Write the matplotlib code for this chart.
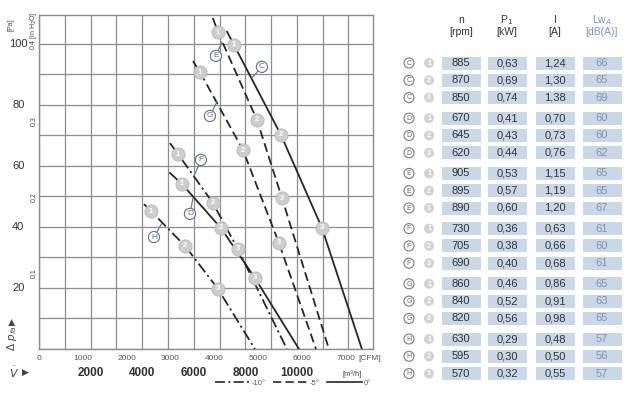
import numpy as np
import matplotlib
matplotlib.use('Agg')
import matplotlib.pyplot as plt
from matplotlib.lines import Line2D
from matplotlib.patches import Circle, Rectangle

plt.rcParams['font.family'] = ['Liberation Sans Narrow', 'Liberation Sans', 'DejaVu Sans']

## Daten der Kennlinien (Volumenstrom m3/h, Druck Pa) #
# Punkte: Anfang, Betriebspunkt 1, 2, 3, Ende #
C_flow = [7290, 7560, 9380, 10970, 12520]
C_pres = [104.0, 99.7, 70.2, 39.7, 0]
D_flow = [5080, 5540, 7050, 8370, 10080]
D_pres = [57.7, 54.1, 39.7, 23.3, 0]
E_flow = [6740, 6940, 8450, 9420, 11240]
E_pres = [108.5, 103.9, 75.1, 49.5, 0]
F_flow = [5080, 5390, 6740, 7710, 9610]
F_pres = [67.5, 63.9, 47.9, 32.8, 0]
G_flow = [5970, 6240, 7910, 9300, 10740]
G_pres = [94.4, 90.8, 65.2, 34.8, 0]
H_flow = [4070, 4340, 5660, 6940, 8370]
H_pres = [47.5, 45.2, 33.8, 19.7, 0]

fans = ['C', 'D', 'E', 'F', 'G', 'H']
flows = [C_flow, D_flow, E_flow, F_flow, G_flow, H_flow]
press = [C_pres, D_pres, E_pres, F_pres, G_pres, H_pres]
angle = ['0°', '0°', '-5°', '-10°', '-5°', '-10°']

# Tabelle #
n_rpm = [885, 870, 850, 670, 645, 620, 905, 895, 890,
         730, 705, 690, 860, 840, 820, 630, 595, 570]
p1_kw = [0.63, 0.69, 0.74, 0.41, 0.43, 0.44, 0.53, 0.57, 0.60,
         0.36, 0.38, 0.40, 0.46, 0.52, 0.56, 0.29, 0.30, 0.32]
i_amp = [1.24, 1.30, 1.38, 0.70, 0.73, 0.76, 1.15, 1.19, 1.20,
         0.63, 0.66, 0.68, 0.86, 0.91, 0.98, 0.48, 0.50, 0.55]
lwa_db = [66, 65, 69, 60, 60, 62, 65, 65, 67,
          61, 60, 61, 65, 63, 65, 57, 56, 57]

pa_ticks = [20, 40, 60, 80, 100]
inh2o_ticks = [0.1, 0.2, 0.3]
m3h_ticks = [2000, 4000, 6000, 8000, 10000]
cfm_ticks = [0, 1000, 2000, 3000, 4000, 5000, 6000, 7000]

styles = {'0°': '-', '-5°': (0, (5, 2.5)), '-10°': (0, (6, 2, 1.2, 2))}
line_col = '#262626'
grid_col = '#8c8c8c'
mark_fc = '#cdcdcd'
lab_col = '#5d7088'

fig = plt.figure(figsize=(6.32, 3.99), dpi=100)
ax = fig.add_axes([39/632, 1-349/399, 334/632, 334/399])
ax.set_xlim(0, 12950)
ax.set_ylim(0, 109.5)
ax.set_xticks(range(0, 13000, 1000))
ax.set_yticks(range(0, 110, 10))
ax.grid(True, color=grid_col, lw=0.9)
ax.tick_params(length=0, labelbottom=False, labelleft=False)
for s in ax.spines.values():
    s.set_color(grid_col)
    s.set_linewidth(1.0)

# Kennlinien #
for name, fl, pr, ang in zip(fans, flows, press, angle):
    ax.plot(fl, pr, color=line_col, lw=1.3, ls=styles[ang], zorder=3)
    for k in range(1, 4):
        ax.plot(fl[k], pr[k], 'o', ms=9.5, mfc=mark_fc, mec='#b8b8b8', mew=0.6, zorder=4)
        ax.text(fl[k], pr[k], str(k), color='white', fontsize=5.5, weight='bold',
                ha='center', va='center', zorder=5)

# Beschriftung der Kurven #
labels = {'E': ((6860, 96.1), (7093, 100.7)),
          'C': ((8643, 92.5), (8256, 88.9)),
          'G': ((6628, 76.4), (6899, 81.0)),
          'F': ((6279, 62.0), (6008, 56.7)),
          'D': ((5853, 44.3), (5969, 49.5)),
          'H': ((4457, 36.7), (4767, 41.3))}
for name, (txt, tgt) in labels.items():
    ax.annotate(name, xy=tgt, xytext=txt, fontsize=6, color=lab_col, ha='center', va='center',
                bbox=dict(boxstyle='circle,pad=0.25', fc='white', ec=lab_col, lw=0.8),
                arrowprops=dict(arrowstyle='-', color=lab_col, lw=0.8, shrinkA=0, shrinkB=0),
                zorder=6)

# Achsen-Beschriftung #
for v in pa_ticks:
    ax.text(-0.062, v, str(v), transform=ax.get_yaxis_transform(), fontsize=8,
            ha='center', va='center', color='#333333')
ax.text(-0.083, 0.99, '[Pa]', transform=ax.transAxes, fontsize=5, rotation=90,
        ha='center', va='top', color='#444444')
for v in inh2o_ticks:
    ax.text(-0.016, v*249.1, str(v).replace('.', ','), transform=ax.get_yaxis_transform(),
            fontsize=5, rotation=90, ha='center', va='center', color='#444444')
ax.text(-0.016, 0.4*249.1 - 1.5, '0,4 [in H$_2$O]', transform=ax.get_yaxis_transform(),
        fontsize=5, rotation=90, ha='center', va='bottom', color='#444444')

for v in cfm_ticks:
    ax.text(v*1.699, -0.027, str(v), transform=ax.get_xaxis_transform(), fontsize=6,
            ha='center', va='center', color='#555555')
ax.text(7000*1.699 + 480, -0.027, '[CFM]', transform=ax.get_xaxis_transform(), fontsize=6,
        ha='left', va='center', color='#555555')
for v in m3h_ticks:
    ax.text(v, -0.072, str(v), transform=ax.get_xaxis_transform(), fontsize=8.5,
            weight='bold', ha='center', va='center', color='#333333')
ax.text(12130, -0.075, '[m³/h]', transform=ax.get_xaxis_transform(), fontsize=5.5,
        ha='center', va='center', color='#444444')

fig.text(12/632, 1-338/399, r'$\Delta\ p_{fa}$', rotation=90, fontsize=7.5,
         ha='center', va='center', color='#444444')
fig.text(12/632, 1-322/399, '▶', rotation=90, fontsize=6.5, family='DejaVu Sans',
         ha='center', va='center', color='#444444')
fig.text(14/632, 1-372/399, r'$\dot{V}$', fontsize=8, ha='center', va='center',
         color='#444444')
fig.text(25/632, 1-372/399, '▶', fontsize=6.5, family='DejaVu Sans',
         ha='center', va='center', color='#444444')

# Legende #
handles = [Line2D([], [], color=line_col, lw=1.2, ls=styles[a]) for a in ['-10°', '-5°', '0°']]
fig.legend(handles, ['-10°', '-5°', '0°'], ncol=3, loc='center',
           bbox_to_anchor=(293/632, 1-383/399), frameon=False, fontsize=5.5,
           handlelength=4.5, columnspacing=1.0, handletextpad=0.3, labelcolor='#555555')

# Tabelle rechts #
axt = fig.add_axes([400/632, 0, 232/632, 1])
axt.set_xlim(400, 632)
axt.set_ylim(399, 0)
axt.axis('off')

col_x = [461, 507, 555, 602]
head1 = ['n', 'P$_1$', 'I', 'Lw$_A$']
head2 = ['[rpm]', '[kW]', '[A]', '[dB(A)]']
for j in range(4):
    c = '#7d93b5' if j == 3 else '#333333'
    axt.text(col_x[j], 20, head1[j], fontsize=7.5, ha='center', va='center', color=c)
    axt.text(col_x[j], 32, head2[j], fontsize=7.5, ha='center', va='center', color=c)

for r in range(len(n_rpm)):
    g, k = divmod(r, 3)
    y = 63 + g*55.2 + k*17.3
    vals = [str(n_rpm[r]), f'{p1_kw[r]:.2f}'.replace('.', ','),
            f'{i_amp[r]:.2f}'.replace('.', ','), str(lwa_db[r])]
    for j in range(4):
        axt.add_patch(Rectangle((col_x[j] - 19.5, y - 6.5), 39, 13, fc='#cad7e7', ec='none'))
        c = '#7d93b5' if j == 3 else '#333333'
        axt.text(col_x[j], y, vals[j], fontsize=8, ha='center', va='center', color=c)
    axt.add_patch(Circle((409, y), 5, fc='white', ec='#7a7a7a', lw=0.8))
    axt.text(409, y + 0.3, fans[g], fontsize=5, ha='center', va='center', color='#666666')
    axt.add_patch(Circle((429, y), 5, fc='#d2d2d2', ec='none'))
    axt.text(429, y + 0.3, str(k + 1), fontsize=5, weight='bold', ha='center', va='center',
             color='white')

fig.savefig('out.png', dpi=100)
